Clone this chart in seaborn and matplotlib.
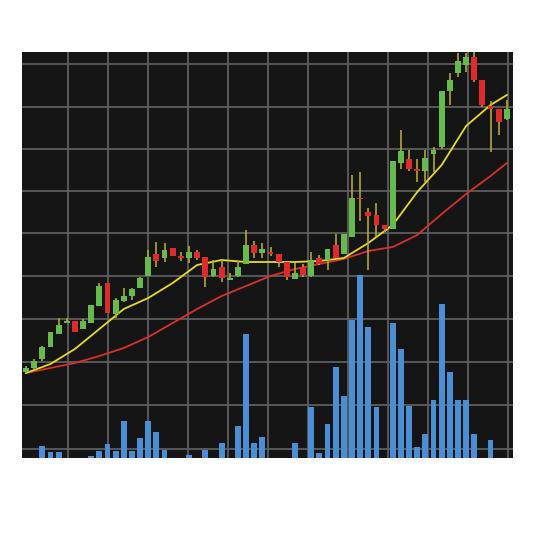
import numpy as np
import pandas as pd
import matplotlib
matplotlib.use("Agg")
import matplotlib.pyplot as plt
import seaborn as sns

# ---- data (arbitrary price units) ----
opens  = [86, 90, 99, 111, 124, 135, 137, 129, 135, 152, 175, 144, 157, 162, 170,
          182, 204, 200, 210, 202, 200, 206, 201, 182, 191, 178, 182, 194, 213, 205,
          206, 204, 196, 179, 191, 182, 200, 198, 213, 204, 221, 260, 246, 243, 233,
          229, 295, 299, 289, 287, 304, 311, 367, 385, 393, 401, 378, 352, 349, 339]
highs  = [92, 99, 112, 126, 140, 140, 137, 139, 153, 175, 175, 160, 170, 170, 181,
          208, 216, 215, 210, 206, 212, 208, 201, 198, 198, 185, 197, 228, 217, 215,
          211, 204, 196, 195, 194, 206, 203, 209, 224, 224, 283, 286, 250, 255, 233,
          297, 328, 308, 299, 308, 311, 367, 385, 405, 405, 406, 378, 357, 349, 358]
lows   = [85, 88, 97, 111, 124, 135, 126, 129, 135, 152, 145, 140, 156, 158, 170,
          182, 191, 196, 202, 197, 195, 198, 171, 181, 176, 178, 181, 194, 200, 200,
          202, 191, 178, 179, 181, 181, 193, 188, 200, 204, 221, 237, 188, 221, 226,
          229, 289, 287, 276, 276, 286, 309, 353, 381, 386, 376, 351, 306, 323, 338]
closes = [90, 97, 111, 126, 133, 137, 126, 137, 153, 172, 145, 158, 162, 169, 180,
          201, 197, 208, 202, 200, 206, 200, 181, 189, 180, 180, 191, 213, 205, 209,
          204, 196, 181, 185, 183, 198, 194, 209, 200, 224, 260, 259, 242, 233, 229,
          297, 307, 289, 287, 300, 308, 367, 378, 397, 401, 378, 353, 349, 336, 349]
volume = [0, 0, 12, 6, 6, 0, 0, 0, 2, 7, 14, 7, 37, 7, 20,
          37, 26, 8, 0, 0, 3, 0, 8, 0, 15, 0, 32, 124, 15, 21,
          0, 0, 0, 15, 0, 51, 5, 34, 91, 62, 138, 183, 131, 51, 0,
          135, 109, 52, 11, 24, 58, 154, 86, 58, 58, 24, 0, 18, 0, 0]

# moving-average lines, read at every third session
ma_idx  = [0, 3, 6, 9, 12, 15, 18, 21, 24, 27, 30, 33, 36, 39, 42, 45, 48, 51, 54, 57, 59]
ma_fast = [85, 94, 109, 129, 149, 160, 175, 193, 198, 196, 196, 196, 197, 200, 215,
           233, 266, 293, 332, 353, 363]
ma_slow = [85, 90, 95, 102, 110, 121, 135, 149, 162, 172, 182, 189, 194, 199, 207,
           211, 223, 244, 264, 282, 295]

# ---- styling ----
BG = "#151515"
GRID = "#5e5e5e"
GREEN = "#66bb4c"
RED = "#e02a2c"
WICK = "#b3a92a"
BLUE = "#4a8ed6"
YELLOW = "#e6dc22"
MA_RED = "#d8302a"

n = len(opens)
idx = np.arange(n)
df = pd.DataFrame({"i": idx, "open": opens, "high": highs, "low": lows,
                   "close": closes, "volume": volume})
ma = pd.DataFrame({"i": ma_idx, "fast": ma_fast, "slow": ma_slow})

W, H = 533, 533
fig = plt.figure(figsize=(W / 100, H / 100), dpi=100, facecolor="white")
left_px, right_px, top_px, bot_px = 22, 513, 52, 458
ax = fig.add_axes([left_px / W, (H - bot_px) / H, (right_px - left_px) / W,
                   (bot_px - top_px) / H])
ax.set_facecolor(BG)

# grid
for v in [9, 53, 96, 139, 182, 225, 267, 309, 351, 394]:
    ax.axhline(v, color=GRID, lw=1.3, zorder=1)
for xp in range(68, 512, 40):
    ax.axvline((xp - 26) / 8.15, color=GRID, lw=1.3, zorder=1)

# volume bars
sns.barplot(data=df, x="i", y="volume", native_scale=True, color=BLUE,
            width=0.72, errorbar=None, saturation=1, ax=ax, zorder=2,
            linewidth=0)

# moving averages
sns.lineplot(data=ma, x="i", y="slow", color=MA_RED, lw=1.3, ax=ax, zorder=3)
sns.lineplot(data=ma, x="i", y="fast", color=YELLOW, lw=1.3, ax=ax, zorder=3)

# candles
up = df["close"] >= df["open"]
ax.vlines(df["i"], df["low"], df["high"], color=WICK, lw=1.2, zorder=4)
body_lo = np.minimum(df["open"], df["close"])
body_h = np.maximum(np.abs(df["close"] - df["open"]), 1.5)
ax.bar(df["i"], body_h, bottom=body_lo, width=0.72,
       color=np.where(up, GREEN, RED), zorder=5, linewidth=0)

ax.set_xlim((left_px - 26) / 8.15, (right_px - 26) / 8.15)
ax.set_ylim(0, bot_px - top_px)
ax.set_xlabel("")
ax.set_ylabel("")
ax.set_xticks([])
ax.set_yticks([])
for s in ax.spines.values():
    s.set_visible(False)

fig.savefig("out.png", dpi=100, facecolor="white")
